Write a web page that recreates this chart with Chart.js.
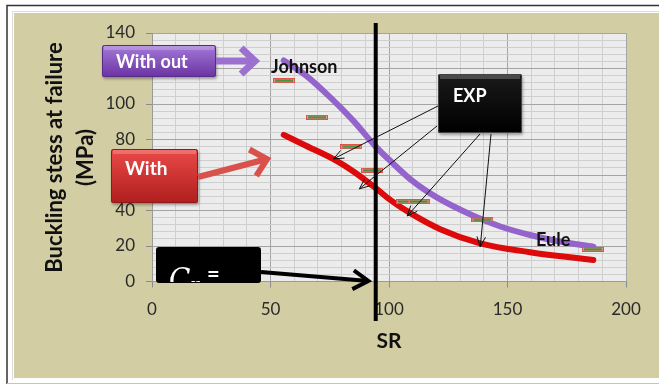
<!DOCTYPE html>
<html><head><meta charset="utf-8">
<script src="https://cdn.jsdelivr.net/npm/chart.js@4/dist/chart.umd.min.js"></script>
<style>html,body{margin:0;padding:0;background:#fff;}canvas{display:block;}</style>
</head><body>
<canvas id="c" width="659" height="385" style="width:659px;height:385px"></canvas>
<script>
// ---- data ----
const withoutSR     = [55.6, 65, 75, 85, 94.4, 100.5, 110, 120, 135.6, 147, 159.5, 172, 186.2];
const withoutStress = [124.5, 116, 104, 90.5, 76, 68, 56.5, 47.5, 37, 31, 26.2, 22.5, 19.6];
const withSR        = [55.6, 65, 77.9, 85, 94.4, 100.5, 109, 121.6, 138.5, 159.5, 186.2];
const withStress    = [82.6, 76.5, 68, 62, 52.6, 46, 38.5, 29.5, 21.5, 16.5, 12.1];
const expSR         = [55.7, 69.6, 84.1, 92.8, 107.5, 112.5, 139.4, 186];
const expStress     = [113.1, 92.6, 75.9, 62.7, 45, 45, 34.7, 18.2];
const ccSR          = [94.4];
const xTickLabels   = [0, 50, 100, 150, 200];
const yTickLabels   = [0, 20, 40, 60, 80, 100, 120, 140];

const pts = (xs, ys) => xs.map((x, i) => ({x: x, y: ys[i]}));

function makeDash(){
  const c = document.createElement('canvas'); c.width = 22; c.height = 5;
  const g = c.getContext('2d');
  g.fillStyle = '#e0524a'; g.fillRect(0, 0, 22, 5);
  g.fillStyle = '#ee948c'; g.fillRect(1, 1, 20, 3);
  g.fillStyle = '#2f9438'; g.fillRect(2, 1.5, 18, 2);
  return c;
}

function arrow(c, x1, y1, x2, y2, w, color, head, ang){
  c.save();
  c.strokeStyle = color; c.lineWidth = w; c.lineCap = 'butt'; c.lineJoin = 'miter';
  c.beginPath(); c.moveTo(x1, y1); c.lineTo(x2, y2); c.stroke();
  const a = Math.atan2(y2 - y1, x2 - x1);
  c.beginPath();
  c.moveTo(x2 - head * Math.cos(a - ang), y2 - head * Math.sin(a - ang));
  c.lineTo(x2, y2);
  c.lineTo(x2 - head * Math.cos(a + ang), y2 - head * Math.sin(a + ang));
  c.stroke();
  c.restore();
}

function rrect(c, x, y, w, h, r){
  c.beginPath();
  c.moveTo(x + r, y); c.lineTo(x + w - r, y); c.quadraticCurveTo(x + w, y, x + w, y + r);
  c.lineTo(x + w, y + h - r); c.quadraticCurveTo(x + w, y + h, x + w - r, y + h);
  c.lineTo(x + r, y + h); c.quadraticCurveTo(x, y + h, x, y + h - r);
  c.lineTo(x, y + r); c.quadraticCurveTo(x, y, x + r, y); c.closePath();
}

function gradBox(c, x, y, w, h, top, bottom, edge){
  c.save();
  c.shadowColor = 'rgba(0,0,0,0.35)'; c.shadowBlur = 3; c.shadowOffsetX = 1; c.shadowOffsetY = 2;
  const g = c.createLinearGradient(0, y, 0, y + h);
  g.addColorStop(0, top); g.addColorStop(1, bottom);
  c.fillStyle = g; rrect(c, x, y, w, h, 2); c.fill();
  c.restore();
  c.save();
  c.fillStyle = 'rgba(255,255,255,0.22)';
  c.fillRect(x + 2, y + 1, w - 4, 4);
  c.strokeStyle = edge; c.lineWidth = 1; rrect(c, x + 0.5, y + 0.5, w - 1, h - 1, 2); c.stroke();
  c.restore();
}

const deco = {
  id: 'deco',
  beforeDraw(chart){
    const c = chart.ctx, a = chart.chartArea;
    c.save();
    c.fillStyle = '#ffffff'; c.fillRect(0, 0, 659, 385);
    c.fillStyle = '#d3cda4'; c.fillRect(14, 13, 645, 365);
    c.strokeStyle = '#dcdcdc'; c.lineWidth = 1;
    c.beginPath(); c.moveTo(12.5, 380); c.lineTo(12.5, 11.5); c.lineTo(659, 11.5); c.stroke();
    c.strokeStyle = '#333'; c.lineWidth = 1.5;
    c.beginPath(); c.moveTo(7, 384); c.lineTo(7, 5.5); c.lineTo(659, 5.5); c.stroke();
    c.strokeStyle = '#c4c4c4'; c.lineWidth = 1;
    c.beginPath(); c.moveTo(7, 383.5); c.lineTo(659, 383.5); c.stroke();
    c.fillStyle = '#ececec'; c.fillRect(a.left, a.top, a.right - a.left, a.bottom - a.top);
    c.restore();
  },
  afterDraw(chart){
    const c = chart.ctx, xs = chart.scales.x, ys = chart.scales.y;
    const px = v => xs.getPixelForValue(v), py = v => ys.getPixelForValue(v);
    c.save();
    // axis titles
    c.fillStyle = '#111'; c.textAlign = 'center'; c.textBaseline = 'middle';
    c.font = 'bold 22px Lato';
    c.save(); c.translate(55, 157.5); c.rotate(-Math.PI / 2);
    c.fillText('Buckling stess at failure', 0, 0); c.restore();
    c.save(); c.translate(86, 157.5); c.rotate(-Math.PI / 2);
    c.fillText('(MPa)', 0, 0); c.restore();
    c.font = 'bold 21px Lato';
    c.fillText('SR', 389, 341);

    // Cc vertical line
    c.strokeStyle = '#000'; c.lineWidth = 4;
    c.beginPath(); c.moveTo(px(ccSR[0]), 23); c.lineTo(px(ccSR[0]), 321); c.stroke();

    // EXP thin arrows
    arrow(c, 438, 106, px(76.6), py(69.1), 1, '#111', 11, 0.4);
    arrow(c, 437, 126, px(87.5), py(52.2), 1, '#111', 11, 0.4);
    arrow(c, 480, 134, px(107.7), py(36.9), 1, '#111', 11, 0.4);
    arrow(c, 491, 134, px(138.5), py(19.5), 1, '#111', 11, 0.4);

    // boxes
    gradBox(c, 102, 45, 114, 32, '#a57ad9', '#6a33a2', '#5a2a8a');
    gradBox(c, 111, 149, 87, 54, '#ea4a48', '#b01e1e', '#8e1a1a');
    gradBox(c, 438, 74, 84, 59, '#1a1a1a', '#000000', '#444');
    c.fillStyle = '#000'; rrect(c, 156, 247, 105, 36, 3); c.fill();

    c.fillStyle = '#fff'; c.textAlign = 'left'; c.textBaseline = 'middle';
    c.font = 'bold 18px Lato';
    c.fillText('With out', 116, 62);
    c.font = 'bold 19px Lato';
    c.fillText('With', 125, 169);
    c.font = 'bold 18px Lato';
    c.fillText('EXP', 453, 96);
    // Cc text (clipped by its box)
    c.save(); rrect(c, 156, 247, 105, 35, 3); c.clip();
    c.textBaseline = 'alphabetic';
    c.font = 'italic 28px "DejaVu Serif"';
    c.fillText('C', 169, 288);
    c.font = 'italic 19px "DejaVu Serif"';
    c.fillText('r', 190, 291);
    c.font = 'bold 22px Lato';
    c.fillText('=', 207, 282);
    c.restore();

    // big arrows
    arrow(c, 216, 61, 255, 61, 7, '#9b70cf', 19, 0.75);
    arrow(c, 198, 177, 267, 159, 6, '#d9514b', 20, 0.75);
    arrow(c, 261, 272, px(91.3), py(0) - 0.5, 4, '#000', 18, 0.55);

    // curve labels
    c.fillStyle = '#111'; c.textBaseline = 'middle';
    c.font = 'bold 18px Lato';
    c.fillText('Johnson', 271, 67);
    c.fillText('Eule', 536, 240);
    c.restore();
  }
};

const gridColor = ctx => (ctx.tick && ctx.tick.major) ? '#a4a4a4' : '#cfcfcf';

new Chart(document.getElementById('c'), {
  type: 'scatter',
  data: {
    datasets: [
      {type: 'line', label: 'With out', data: pts(withoutSR, withoutStress), borderColor: '#9464cc',
       borderWidth: 6, pointRadius: 0, cubicInterpolationMode: 'monotone', borderCapStyle: 'round', fill: false, order: 3},
      {type: 'line', label: 'With', data: pts(withSR, withStress), borderColor: '#dc0a0a',
       borderWidth: 6, pointRadius: 0, cubicInterpolationMode: 'monotone', borderCapStyle: 'round', fill: false, order: 2},
      {type: 'scatter', label: 'EXP', data: pts(expSR, expStress), pointStyle: makeDash(),
       pointRadius: 11, order: 1}
    ]
  },
  options: {
    responsive: false, animation: false, devicePixelRatio: 1,
    layout: {padding: {top: 33, right: 33, left: 0, bottom: 0}},
    plugins: {legend: {display: false}, tooltip: {enabled: false}},
    scales: {
      x: {
        type: 'linear', min: 0, max: 200,
        afterFit(s){ s.height = 103.5; },
        afterBuildTicks(s){ s.ticks = []; for (let v = 0; v <= 200; v += 10) s.ticks.push({value: v, major: xTickLabels.includes(v)}); },
        ticks: {autoSkip: false, maxRotation: 0, padding: 12, color: '#2a2a2a', font: {family: 'Lato', size: 17},
                callback: v => xTickLabels.includes(v) ? String(v) : ''},
        grid: {color: gridColor, tickLength: 6, tickColor: ctx => (ctx.tick && ctx.tick.major) ? '#8a8a8a' : 'rgba(0,0,0,0)'},
        border: {color: '#9a9a9a'}
      },
      y: {
        type: 'linear', min: 0, max: 140,
        afterFit(s){ s.width = 152; },
        afterBuildTicks(s){ s.ticks = []; for (let v = 0; v <= 140; v += 4) s.ticks.push({value: v, major: yTickLabels.includes(v)}); },
        ticks: {autoSkip: false, padding: 11, color: '#2a2a2a', font: {family: 'Lato', size: 17},
                callback: v => yTickLabels.includes(v) ? String(v) : ''},
        grid: {color: gridColor, tickLength: 6, tickColor: ctx => (ctx.tick && ctx.tick.major) ? '#8a8a8a' : 'rgba(0,0,0,0)'},
        border: {color: '#9a9a9a'}
      }
    }
  },
  plugins: [deco]
});
</script>
</body></html>
